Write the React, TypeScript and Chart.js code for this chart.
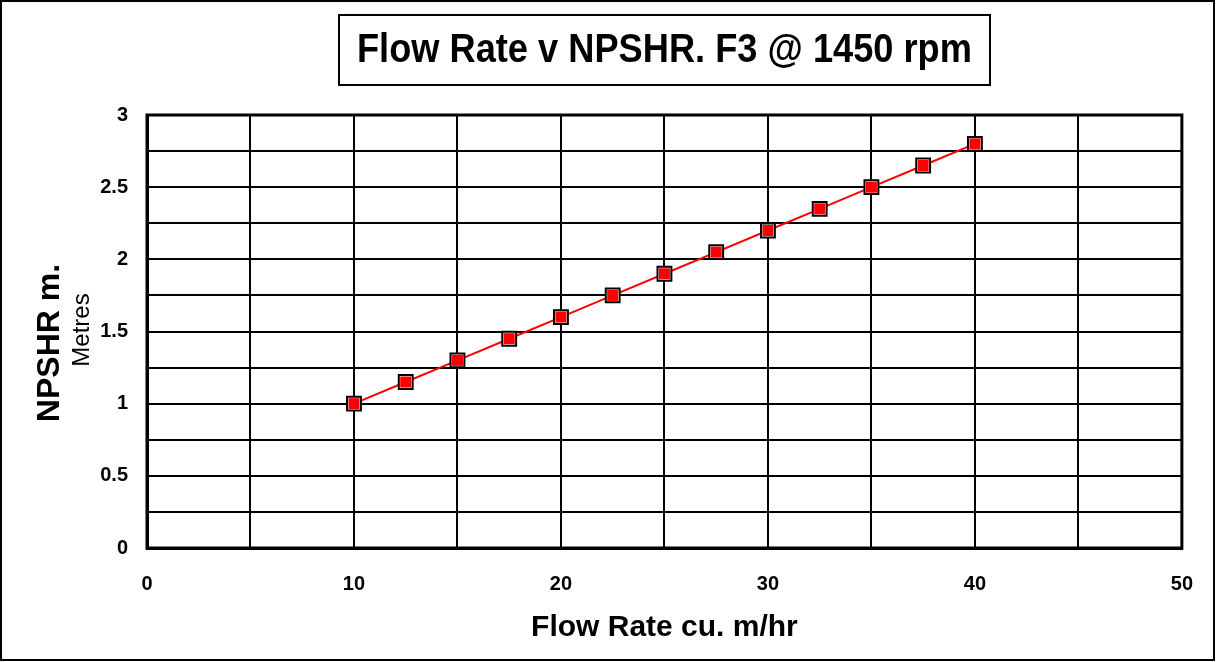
import { useEffect, useRef } from "react";
import { Chart, registerables } from "chart.js";

Chart.register(...registerables);

// ---- data ----
const flowRates = [10, 12.5, 15, 17.5, 20, 22.5, 25, 27.5, 30, 32.5, 35, 37.5, 40];
const npshr = [1.0, 1.15, 1.3, 1.45, 1.6, 1.75, 1.9, 2.05, 2.2, 2.35, 2.5, 2.65, 2.8];
const titleText = "Flow Rate v NPSHR. F3 @ 1450 rpm";
const xAxisTitle = "Flow Rate cu. m/hr";
const yAxisTitle = "NPSHR m.";
const yAxisSubtitle = "Metres";
const xLabelledTicks = [0, 10, 20, 30, 40, 50];
const yLabelledTicks = [0, 0.5, 1, 1.5, 2, 2.5, 3];

const FONT = '"Liberation Sans", Arial, sans-serif';

const decorPlugin = {
  id: "decor",
  afterDraw(chart: any) {
    const { ctx, chartArea } = chart;
    const cx = (chartArea.left + chartArea.right) / 2;
    ctx.save();
    // outer border
    ctx.strokeStyle = "#000";
    ctx.lineWidth = 2;
    ctx.strokeRect(1, 1, 1213, 659);
    // plot frame
    ctx.lineWidth = 3;
    ctx.strokeRect(chartArea.left, chartArea.top, chartArea.right - chartArea.left, chartArea.bottom - chartArea.top);
    // title box
    ctx.lineWidth = 2;
    ctx.strokeRect(Math.round(cx - 325.5), 15, 651, 70);
    // title text (condensed)
    ctx.fillStyle = "#000";
    ctx.font = `bold 40px ${FONT}`;
    const w = ctx.measureText(titleText).width;
    ctx.translate(cx, 62);
    ctx.scale(615 / w, 1);
    ctx.textAlign = "center";
    ctx.textBaseline = "alphabetic";
    ctx.fillText(titleText, 0, 0);
    ctx.restore();

    // y titles
    ctx.save();
    ctx.fillStyle = "#000";
    ctx.translate(59, 343);
    ctx.rotate(-Math.PI / 2);
    ctx.font = `bold 32px ${FONT}`;
    ctx.textAlign = "center";
    ctx.textBaseline = "alphabetic";
    ctx.fillText(yAxisTitle, 0, 0);
    ctx.restore();

    ctx.save();
    ctx.fillStyle = "#000";
    ctx.translate(89, 330);
    ctx.rotate(-Math.PI / 2);
    ctx.font = `24px ${FONT}`;
    ctx.textAlign = "center";
    ctx.textBaseline = "alphabetic";
    ctx.fillText(yAxisSubtitle, 0, 0);
    ctx.restore();
  },
};

export default function App() {
  const ref = useRef<HTMLCanvasElement>(null);

  useEffect(() => {
    const points = flowRates.map((x, i) => ({ x, y: npshr[i] }));
    const chart = new Chart(ref.current!, {
      type: "scatter",
      data: {
        datasets: [
          {
            data: points,
            showLine: true,
            borderColor: "#ff0000",
            borderWidth: 2,
            pointRadius: 0,
            order: 3,
          },
          {
            data: points,
            showLine: false,
            pointStyle: "rect",
            pointRadius: 9.8,
            backgroundColor: "#ffffff",
            borderColor: "#000000",
            pointBorderWidth: 2,
            order: 2,
          },
          {
            data: points,
            showLine: false,
            pointStyle: "rect",
            pointRadius: 7.8,
            backgroundColor: "#ff0000",
            borderColor: "#ff0000",
            pointBorderWidth: 0,
            order: 1,
          },
        ] as any,
      },
      options: {
        animation: false,
        responsive: false,
        events: [],
        layout: { padding: { top: 115, right: 35, left: 0, bottom: 0 } },
        plugins: {
          legend: { display: false },
          tooltip: { enabled: false },
          title: { display: false },
        },
        scales: {
          x: {
            type: "linear",
            min: 0,
            max: 50,
            afterFit: (s: any) => {
              s.height = 114;
            },
            grid: { color: "#000", lineWidth: 2, drawTicks: false },
            border: { color: "#000", width: 3 },
            ticks: {
              stepSize: 5,
              autoSkip: false,
              maxRotation: 0,
              padding: 24,
              color: "#000",
              font: { family: FONT, size: 20, weight: "bold" },
              callback: (v: any) => (xLabelledTicks.includes(Number(v)) ? String(v) : ""),
            },
            title: {
              display: true,
              text: xAxisTitle,
              color: "#000",
              font: { family: FONT, size: 30, weight: "bold" },
              padding: { top: 0, bottom: 16 },
            },
          },
          y: {
            type: "linear",
            min: 0,
            max: 3,
            afterFit: (s: any) => {
              s.width = 147;
            },
            grid: { color: "#000", lineWidth: 2, drawTicks: false },
            border: { color: "#000", width: 3 },
            ticks: {
              stepSize: 0.25,
              autoSkip: false,
              padding: 19,
              color: "#000",
              font: { family: FONT, size: 20, weight: "bold" },
              callback: (v: any) => (yLabelledTicks.includes(Number(v)) ? String(v) : ""),
            },
          },
        },
      },
      plugins: [decorPlugin],
    });
    return () => chart.destroy();
  }, []);

  return (
    <div style={{ position: "fixed", left: 0, top: 0, width: 1217, height: 662, background: "#fff" }}>
      <canvas ref={ref} width={1217} height={662} style={{ display: "block" }} />
    </div>
  );
}
